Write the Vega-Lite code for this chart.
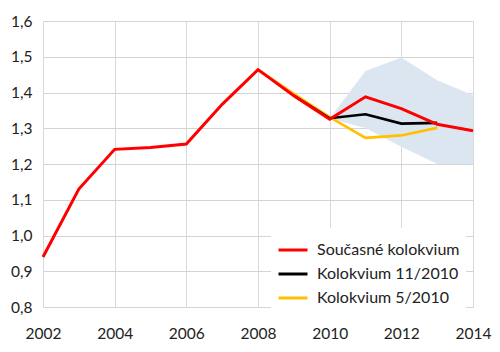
{
  "$schema": "https://vega.github.io/schema/vega-lite/v6.json",
  "width": 430,
  "height": 286,
  "autosize": {"type": "none"},
  "padding": {"left": 43, "top": 21, "right": 27, "bottom": 45},
  "background": "white",
  "config": {
    "font": "Lato",
    "view": {"stroke": null},
    "axis": {"labelFont": "Lato", "labelFontSize": 15.5, "labelColor": "#222222", "domain": false, "ticks": false, "title": null, "labelOverlap": false},
    "axisX": {"grid": true, "gridColor": "#d9d9d9", "gridWidth": 1},
    "axisY": {"grid": true, "gridColor": "#d4d4d4", "gridWidth": 1.2}
  },
  "datasets": {
    "lines": [
      {"year": 2002, "series": "Současné kolokvium", "value": 0.94},
      {"year": 2003, "series": "Současné kolokvium", "value": 1.13},
      {"year": 2004, "series": "Současné kolokvium", "value": 1.241},
      {"year": 2005, "series": "Současné kolokvium", "value": 1.246},
      {"year": 2006, "series": "Současné kolokvium", "value": 1.256},
      {"year": 2007, "series": "Současné kolokvium", "value": 1.367},
      {"year": 2008, "series": "Současné kolokvium", "value": 1.464},
      {"year": 2009, "series": "Současné kolokvium", "value": 1.391},
      {"year": 2010, "series": "Současné kolokvium", "value": 1.325},
      {"year": 2011, "series": "Současné kolokvium", "value": 1.388},
      {"year": 2012, "series": "Současné kolokvium", "value": 1.355},
      {"year": 2013, "series": "Současné kolokvium", "value": 1.311},
      {"year": 2014, "series": "Současné kolokvium", "value": 1.293},
      {"year": 2009, "series": "Kolokvium 11/2010", "value": 1.391},
      {"year": 2010, "series": "Kolokvium 11/2010", "value": 1.328},
      {"year": 2011, "series": "Kolokvium 11/2010", "value": 1.339},
      {"year": 2012, "series": "Kolokvium 11/2010", "value": 1.313},
      {"year": 2013, "series": "Kolokvium 11/2010", "value": 1.315},
      {"year": 2008, "series": "Kolokvium 5/2010", "value": 1.464},
      {"year": 2009, "series": "Kolokvium 5/2010", "value": 1.396},
      {"year": 2010, "series": "Kolokvium 5/2010", "value": 1.331},
      {"year": 2011, "series": "Kolokvium 5/2010", "value": 1.273},
      {"year": 2012, "series": "Kolokvium 5/2010", "value": 1.28},
      {"year": 2013, "series": "Kolokvium 5/2010", "value": 1.301}
    ],
    "band": [
      {"year": 2010, "lo": 1.327, "hi": 1.327},
      {"year": 2011, "lo": 1.301, "hi": 1.46},
      {"year": 2012, "lo": 1.248, "hi": 1.498},
      {"year": 2013, "lo": 1.2, "hi": 1.434},
      {"year": 2014, "lo": 1.2, "hi": 1.392}
    ]
  },
  "encoding": {
    "x": {"field": "year", "type": "quantitative", "scale": {"domain": [2002, 2014], "nice": false, "zero": false},
      "axis": {"values": [2002, 2004, 2006, 2008, 2010, 2012, 2014], "format": "d", "labelPadding": 19, "labelFlush": false}},
    "y": {"field": "value", "type": "quantitative", "scale": {"domain": [0.8, 1.6], "nice": false, "zero": false},
      "axis": {"values": [0.8, 0.9, 1.0, 1.1, 1.2, 1.3, 1.4, 1.5, 1.6], "labelExpr": "replace(format(datum.value, '.1f'), '.', ',')", "labelPadding": 11}}
  },
  "layer": [
    {
      "data": {"name": "band"},
      "mark": {"type": "area", "color": "#dce6f1", "opacity": 1},
      "encoding": {
        "y": {"field": "hi", "type": "quantitative"},
        "y2": {"field": "lo"}
      }
    },
    {
      "data": {"name": "lines"},
      "transform": [{"filter": "datum.series === 'Kolokvium 5/2010'"}],
      "mark": {"type": "line", "strokeWidth": 2.6},
      "encoding": {
        "color": {"field": "series", "type": "nominal"}
      }
    },
    {
      "data": {"name": "lines"},
      "transform": [{"filter": "datum.series === 'Kolokvium 11/2010'"}],
      "mark": {"type": "line", "strokeWidth": 2.6},
      "encoding": {
        "color": {"field": "series", "type": "nominal"}
      }
    },
    {
      "data": {"name": "lines"},
      "transform": [{"filter": "datum.series === 'Současné kolokvium'"}],
      "mark": {"type": "line", "strokeWidth": 3},
      "encoding": {
        "color": {"field": "series", "type": "nominal",
          "scale": {"domain": ["Současné kolokvium", "Kolokvium 11/2010", "Kolokvium 5/2010"], "range": ["#ff0000", "#000000", "#ffc000"]},
          "legend": {"title": null, "orient": "none", "legendX": 228, "legendY": 207, "fillColor": "white", "padding": 6,
            "symbolType": "stroke", "symbolSize": 841, "symbolStrokeWidth": 3, "labelFont": "Lato", "labelFontSize": 16, "labelColor": "#222222",
            "rowPadding": 0, "labelOffset": 8, "labelLimit": 300}}
      }
    }
  ]
}
